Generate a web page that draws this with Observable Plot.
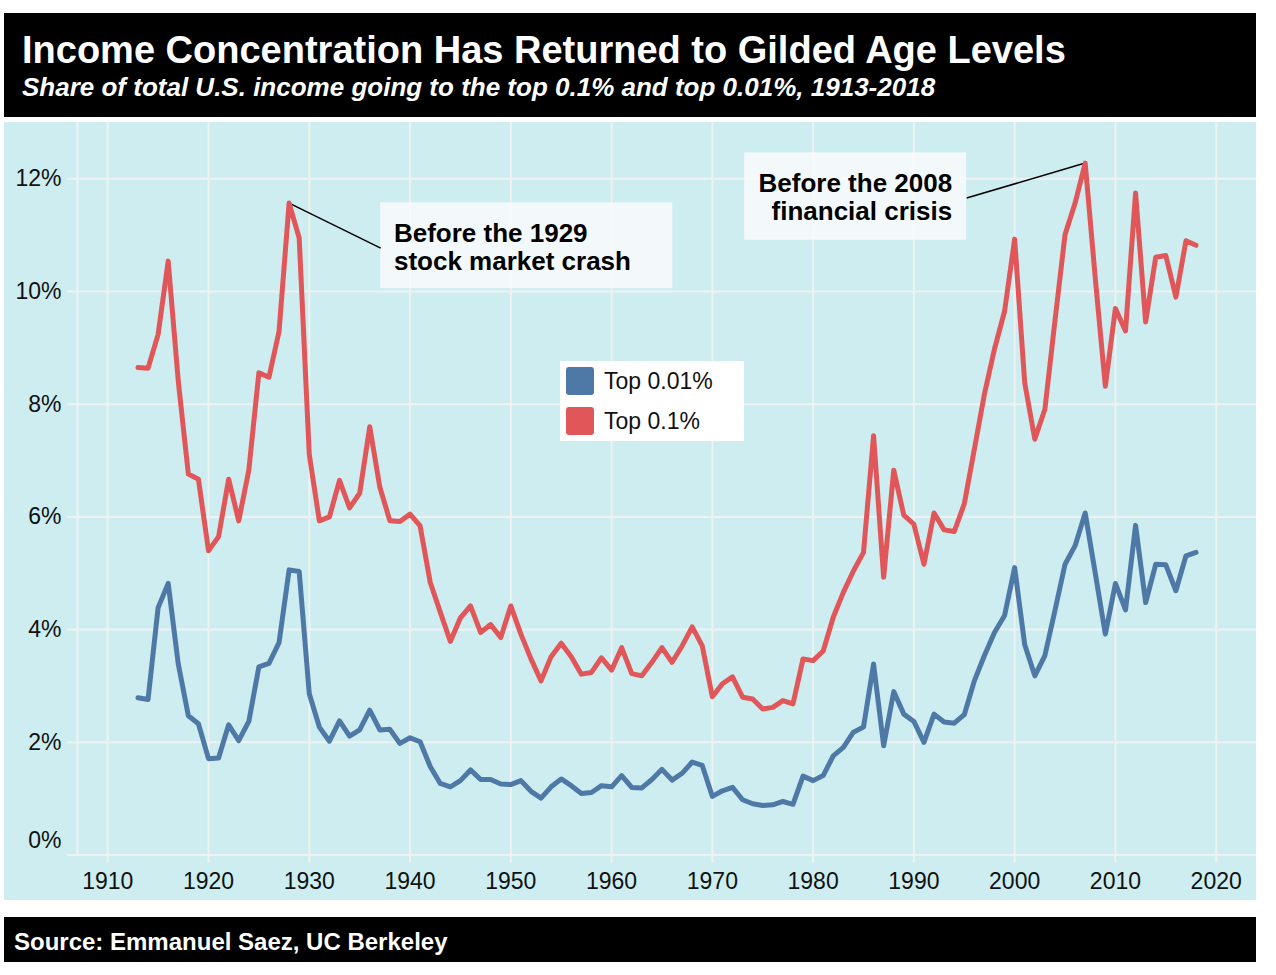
<!DOCTYPE html>
<html>
<head>
<meta charset="utf-8">
<script src="https://cdn.jsdelivr.net/npm/d3@7"></script>
<script src="https://cdn.jsdelivr.net/npm/@observablehq/plot@0.6"></script>
<style>
  body { margin: 0; background: #ffffff; font-family: Arial, "Liberation Sans", sans-serif; }
  #page { position: relative; width: 1276px; height: 975px; }
  #header { position: absolute; left: 4px; top: 13px; width: 1252px; height: 104px; background: #000; color: #fff; }
  #title { position: absolute; left: 18px; top: 18px; font-size: 38px; line-height: 38px; font-weight: bold; white-space: nowrap; }
  #subtitle { position: absolute; left: 18px; top: 61px; font-size: 26px; line-height: 26px; font-weight: bold; font-style: italic; white-space: nowrap; }
  #chart { position: absolute; left: 4px; top: 122px; width: 1252px; height: 778px; background: #cdedf0; overflow: hidden; }
  #chart svg { position: absolute; left: 0; top: 0; }
  #legend { position: absolute; left: 556px; top: 239px; width: 184px; height: 80px; background: #fff; }
  .lg-item { position: absolute; left: 6px; height: 28px; display: flex; align-items: center; }
  .lg-swatch { width: 28px; height: 28px; border-radius: 3px; margin-right: 10px; }
  .lg-label { font-size: 23px; color: #111; white-space: nowrap; }
  #footer { position: absolute; left: 4px; top: 917px; width: 1252px; height: 45px; background: #000; color: #fff; }
  #source { position: absolute; left: 10px; top: 13px; font-size: 24px; line-height: 24px; font-weight: bold; white-space: nowrap; }
</style>
</head>
<body>
<div id="page">
  <div id="header">
    <div id="title">Income Concentration Has Returned to Gilded Age Levels</div>
    <div id="subtitle">Share of total U.S. income going to the top 0.1% and top 0.01%, 1913-2018</div>
  </div>
  <div id="chart"></div>
  <div id="footer"><div id="source">Source: Emmanuel Saez, UC Berkeley</div></div>
</div>
<script>
// ---------- Data ----------
const years = [
  1913, 1914, 1915, 1916, 1917, 1918, 1919,
  1920, 1921, 1922, 1923, 1924, 1925, 1926, 1927, 1928, 1929,
  1930, 1931, 1932, 1933, 1934, 1935, 1936, 1937, 1938, 1939,
  1940, 1941, 1942, 1943, 1944, 1945, 1946, 1947, 1948, 1949,
  1950, 1951, 1952, 1953, 1954, 1955, 1956, 1957, 1958, 1959,
  1960, 1961, 1962, 1963, 1964, 1965, 1966, 1967, 1968, 1969,
  1970, 1971, 1972, 1973, 1974, 1975, 1976, 1977, 1978, 1979,
  1980, 1981, 1982, 1983, 1984, 1985, 1986, 1987, 1988, 1989,
  1990, 1991, 1992, 1993, 1994, 1995, 1996, 1997, 1998, 1999,
  2000, 2001, 2002, 2003, 2004, 2005, 2006, 2007, 2008, 2009,
  2010, 2011, 2012, 2013, 2014, 2015, 2016, 2017, 2018
];

// Top 0.1% share (%)
const top01 = [
  8.65, 8.64, 9.24, 10.54, 8.41, 6.76, 6.67,
  5.40, 5.65, 6.67, 5.93, 6.83, 8.56, 8.48, 9.29, 11.57, 10.95,
  7.11, 5.93, 6.00, 6.65, 6.16, 6.42, 7.60, 6.53, 5.93, 5.92,
  6.05, 5.84, 4.84, 4.31, 3.79, 4.21, 4.42, 3.95, 4.09, 3.86,
  4.42, 3.92, 3.48, 3.09, 3.52, 3.76, 3.52, 3.21, 3.24, 3.50,
  3.28, 3.68, 3.22, 3.18, 3.42, 3.68, 3.42, 3.71, 4.05, 3.71,
  2.81, 3.04, 3.16, 2.80, 2.77, 2.59, 2.62, 2.74, 2.68, 3.48,
  3.45, 3.62, 4.22, 4.66, 5.04, 5.37, 7.44, 4.93, 6.83, 6.03,
  5.87, 5.16, 6.07, 5.77, 5.74, 6.23, 7.20, 8.18, 8.98, 9.65,
  10.93, 8.38, 7.38, 7.91, 9.48, 11.01, 11.57, 12.28, 10.24, 8.32,
  9.70, 9.30, 11.75, 9.46, 10.61, 10.64, 9.90, 10.90, 10.82
];

// Top 0.01% share (%)
const top001 = [
  2.79, 2.76, 4.39, 4.82, 3.39, 2.47, 2.33,
  1.71, 1.72, 2.31, 2.03, 2.37, 3.34, 3.40, 3.77, 5.06, 5.03,
  2.86, 2.27, 2.02, 2.38, 2.11, 2.22, 2.57, 2.22, 2.23, 1.98,
  2.08, 2.01, 1.57, 1.27, 1.21, 1.32, 1.51, 1.34, 1.34, 1.26,
  1.25, 1.32, 1.13, 1.01, 1.21, 1.35, 1.23, 1.09, 1.11, 1.23,
  1.21, 1.41, 1.20, 1.19, 1.34, 1.52, 1.33, 1.45, 1.65, 1.59,
  1.04, 1.14, 1.20, 0.98, 0.91, 0.88, 0.89, 0.95, 0.90, 1.40,
  1.32, 1.41, 1.76, 1.91, 2.18, 2.27, 3.39, 1.94, 2.90, 2.50,
  2.37, 2.00, 2.50, 2.36, 2.34, 2.49, 3.09, 3.54, 3.95, 4.25,
  5.10, 3.73, 3.18, 3.54, 4.34, 5.16, 5.49, 6.07, 5.00, 3.92,
  4.82, 4.35, 5.85, 4.48, 5.16, 5.15, 4.69, 5.31, 5.37
];

const seriesNames = ["Top 0.01%", "Top 0.1%"];
const seriesColors = ["#4e79a7", "#e15759"];

const xTicks = [1910, 1920, 1930, 1940, 1950, 1960, 1970, 1980, 1990, 2000, 2010, 2020];
const yTicks = [0, 2, 4, 6, 8, 10, 12];
const xDomain = [1907, 2024];
const yDomain = [0, 13];

// Annotations (data space)
const annoLabels = ["Before the 1929\nstock market crash", "Before the 2008\nfinancial crisis"];
const annoPeakYear = [1928, 2007];
const annoLabelX = [1938.4, 1993.8];
const annoLabelY = [10.79, 11.68];
const annoAnchor = ["start", "end"];
const annoLeaderX = [1937.09, 1995.24];
const annoLeaderY = [10.77, 11.66];
const annoBoxX1 = [1937.09, 1973.21];
const annoBoxX2 = [1966.07, 1995.24];
const annoBoxY1 = [10.05, 10.91];
const annoBoxY2 = [11.575, 12.46];

// ---------- Build table ----------
const rows = [];
years.forEach((yr, i) => {
  rows.push({year: yr, value: top001[i], series: seriesNames[0]});
  rows.push({year: yr, value: top01[i], series: seriesNames[1]});
});
const annotations = annoLabels.map((label, i) => ({
  label,
  anchor: annoAnchor[i],
  peakYear: annoPeakYear[i],
  peakValue: top01[years.indexOf(annoPeakYear[i])],
  lx: annoLabelX[i], ly: annoLabelY[i],
  leadX: annoLeaderX[i], leadY: annoLeaderY[i],
  bx1: annoBoxX1[i], bx2: annoBoxX2[i], by1: annoBoxY1[i], by2: annoBoxY2[i]
}));

const gridColor = "#eef2f2";
const textColor = "#111111";

const chart = Plot.plot({
  width: 1252,
  height: 778,
  marginLeft: 73,
  marginRight: 0,
  marginTop: 0,
  marginBottom: 45.5,
  style: {background: "transparent", fontFamily: "Arial, 'Liberation Sans', sans-serif", fontSize: "23px", color: textColor, overflow: "visible"},
  x: {domain: xDomain, label: null},
  y: {domain: yDomain, label: null},
  color: {domain: seriesNames, range: seriesColors},
  marks: [
    Plot.gridX(xTicks, {stroke: gridColor, strokeOpacity: 1, strokeWidth: 2}),
    Plot.gridY(yTicks, {stroke: gridColor, strokeOpacity: 1, strokeWidth: 2}),
    Plot.ruleX([xDomain[0]], {stroke: gridColor, strokeWidth: 2}),
    Plot.axisX(xTicks, {tickSize: 8, tickPadding: 10, stroke: gridColor, strokeWidth: 2, fill: textColor, tickFormat: d => String(d)}),
    Plot.axisY(yTicks, {tickSize: 10, tickPadding: 6, stroke: gridColor, strokeWidth: 2, fill: textColor, tickFormat: d => d > 0 ? d + "%" : ""}),
    Plot.axisY([yTicks[0]], {tickSize: 0, tickPadding: 16, dy: -14, fill: textColor, tickFormat: d => d + "%"}),
    Plot.rect(annotations, {x1: "bx1", x2: "bx2", y1: "by1", y2: "by2", fill: "#f7fafb", fillOpacity: 0.9}),
    Plot.link(annotations, {x1: "peakYear", y1: "peakValue", x2: "leadX", y2: "leadY", stroke: "#000", strokeWidth: 1.5}),
    Plot.line(rows, {x: "year", y: "value", z: "series", stroke: "series", strokeWidth: 5, strokeLinejoin: "round", strokeLinecap: "round"}),
    Plot.text(annotations.filter(d => d.anchor === "start"), {x: "lx", y: "ly", text: "label", textAnchor: "start", lineAnchor: "middle", lineHeight: 1.09, fontSize: 26, fontWeight: "bold", fill: "#000"}),
    Plot.text(annotations.filter(d => d.anchor === "end"), {x: "lx", y: "ly", text: "label", textAnchor: "end", lineAnchor: "middle", lineHeight: 1.09, fontSize: 26, fontWeight: "bold", fill: "#000"})
  ]
});

const host = document.getElementById("chart");
host.appendChild(chart);

// Legend
const legend = document.createElement("div");
legend.id = "legend";
seriesNames.forEach((name, i) => {
  const item = document.createElement("div");
  item.className = "lg-item";
  item.style.top = (6 + i * 40) + "px";
  const sw = document.createElement("div");
  sw.className = "lg-swatch";
  sw.style.background = seriesColors[i];
  const lb = document.createElement("div");
  lb.className = "lg-label";
  lb.textContent = name;
  item.appendChild(sw);
  item.appendChild(lb);
  legend.appendChild(item);
});
host.appendChild(legend);
</script>
</body>
</html>
